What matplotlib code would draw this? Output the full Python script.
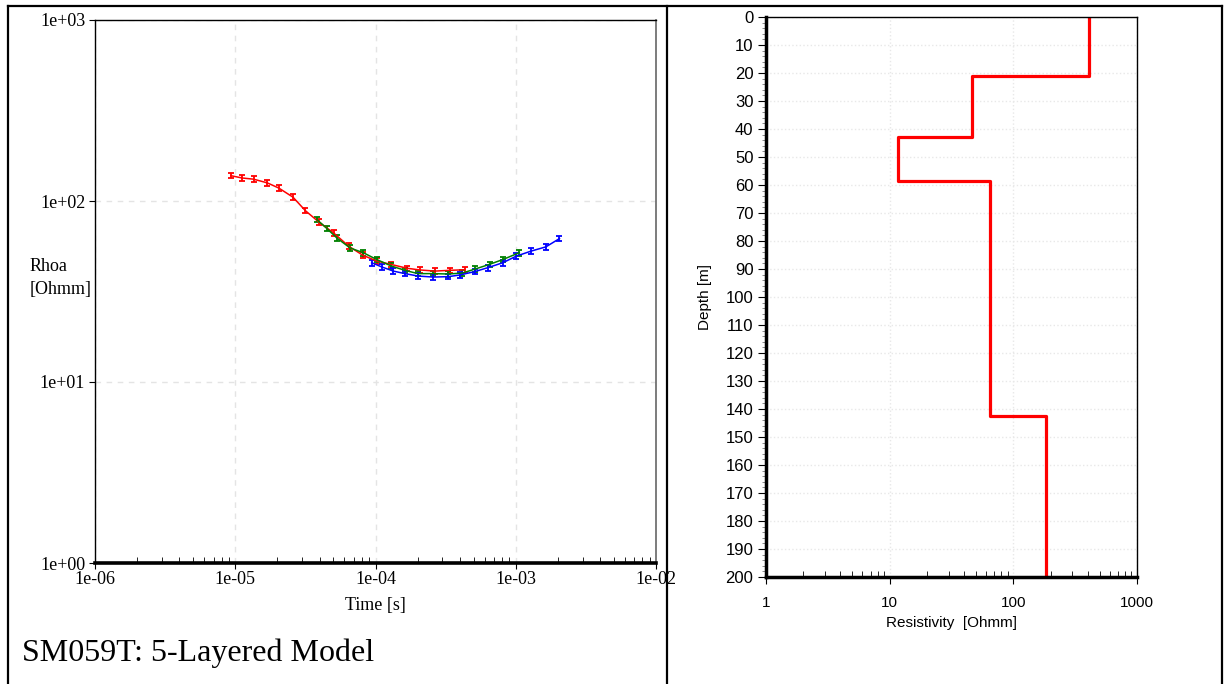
import matplotlib
matplotlib.use("Agg")
import matplotlib.pyplot as plt
import numpy as np
from matplotlib.lines import Line2D
from matplotlib.ticker import FixedLocator, NullLocator, MultipleLocator, LogLocator, FuncFormatter, NullFormatter

# apparent resistivity curves (time [s], rhoa [Ohmm])
red_t = [9.3e-6, 1.12e-5, 1.35e-5, 1.69e-5, 2.04e-5, 2.58e-5, 3.16e-5, 3.93e-5, 5.02e-5,
         6.42e-5, 8.1e-5, 1.02e-4, 1.28e-4, 1.68e-4, 2.07e-4, 2.65e-4, 3.39e-4, 4.33e-4]
red_rho = [138, 134, 132, 126, 118, 105, 88.5, 76.7, 66.7,
           56.4, 50.2, 46.6, 44.7, 42.5, 41.6, 41.0, 41.4, 41.7]

green_t = [3.82e-5, 4.5e-5, 5.3e-5, 6.59e-5, 8.18e-5, 1.02e-4, 1.3e-4, 1.62e-4,
           2.01e-4, 2.57e-4, 3.31e-4, 4.17e-4, 5.09e-4, 6.52e-4, 8.09e-4, 1.06e-3]
green_rho = [79, 70.5, 62.5, 55, 51.8, 47.5, 43.7, 41.4,
             39.7, 39.7, 39.5, 40, 42, 44.7, 47.5, 51.8]

blue_t = [9.4e-5, 1.11e-4, 1.34e-4, 1.62e-4, 2.01e-4, 2.58e-4, 3.31e-4, 3.98e-4,
          5.09e-4, 6.31e-4, 8.09e-4, 1.01e-3, 1.29e-3, 1.64e-3, 2.05e-3]
blue_rho = [45.6, 43.2, 41, 39.7, 38.5, 38, 38.2, 39,
            40.7, 42.8, 45.6, 49.6, 52.9, 55.8, 62]

rel_err = 0.035

# layered model
layer_res = [410, 46, 11.7, 65, 183]
layer_top = [0, 21, 43, 58.5, 142.5]
max_depth = 200

serif = ["Liberation Serif", "DejaVu Serif"]
sans = ["Liberation Sans", "DejaVu Sans"]

fig = plt.figure(figsize=(12.25, 6.84), dpi=100)

# ---- left: sounding curve
ax1 = fig.add_axes([95 / 1225, 1 - 563 / 684, 561 / 1225, 543 / 684])
for t, r, c in [(red_t, red_rho, "red"), (green_t, green_rho, "green"), (blue_t, blue_rho, "blue")]:
    r = np.array(r)
    ax1.errorbar(t, r, yerr=r * rel_err, color=c, lw=1.1, elinewidth=1.3,
                 capsize=2.5, capthick=1.3)
ax1.set_xscale("log")
ax1.set_yscale("log")
ax1.set_xlim(1e-6, 1e-2)
ax1.set_ylim(1, 1000)
ax1.xaxis.set_major_locator(FixedLocator([1e-6, 1e-5, 1e-4, 1e-3, 1e-2]))
ax1.xaxis.set_minor_locator(LogLocator(base=10, subs=np.arange(2, 10), numticks=20))
ax1.xaxis.set_minor_formatter(NullFormatter())
ax1.yaxis.set_major_locator(FixedLocator([1, 10, 100, 1000]))
ax1.yaxis.set_minor_locator(NullLocator())
fmt = FuncFormatter(lambda v, p: f"{v:.0e}")
ax1.xaxis.set_major_formatter(fmt)
ax1.yaxis.set_major_formatter(fmt)
ax1.tick_params(axis="x", which="major", direction="out", length=4, pad=2, labelsize=13)
ax1.tick_params(axis="x", which="minor", direction="in", length=4)
ax1.tick_params(axis="y", which="major", direction="out", length=4, pad=3, labelsize=13)
for lab in ax1.get_xticklabels() + ax1.get_yticklabels():
    lab.set_family(serif)
ax1.grid(True, which="major", color="#e4e4e4", lw=1, linestyle=(0, (4, 4)))
ax1.spines["bottom"].set_linewidth(2.6)
ax1.spines["left"].set_linewidth(1)
ax1.spines["top"].set_linewidth(1)
ax1.spines["right"].set_linewidth(1.2)
ax1.spines["right"].set_color("#666666")
ax1.set_xlabel("Time [s]", family=serif, fontsize=13, labelpad=6)
fig.text(30 / 1225, 1 - 278 / 684, "Rhoa\n[Ohmm]", family=serif, fontsize=13,
         ha="left", va="center", linespacing=1.5)
fig.text(22 / 1225, 1 - 653 / 684, "SM059T: 5-Layered Model", family=serif,
         fontsize=23, ha="left", va="center")

# ---- right: resistivity vs depth model
ax2 = fig.add_axes([766 / 1225, 1 - 577 / 684, 371 / 1225, 560 / 684])
xs = []
ys = []
bounds = layer_top[1:] + [max_depth]
for res, top, bot in zip(layer_res, layer_top, bounds):
    xs += [res, res]
    ys += [top, bot]
ax2.plot(xs, ys, color="red", lw=2.3)
ax2.set_xscale("log")
ax2.set_xlim(1, 1000)
ax2.set_ylim(max_depth, 0)
ax2.xaxis.set_major_locator(FixedLocator([1, 10, 100, 1000]))
ax2.xaxis.set_major_formatter(FuncFormatter(lambda v, p: f"{v:.0f}"))
ax2.xaxis.set_minor_locator(LogLocator(base=10, subs=np.arange(2, 10), numticks=20))
ax2.xaxis.set_minor_formatter(NullFormatter())
ax2.yaxis.set_major_locator(MultipleLocator(10))
ax2.yaxis.set_minor_locator(MultipleLocator(2))
ax2.tick_params(axis="x", which="major", direction="out", length=5, pad=9, labelsize=11)
ax2.tick_params(axis="x", which="minor", direction="in", length=4)
ax2.tick_params(axis="y", which="major", direction="out", length=6, pad=3, labelsize=12)
ax2.tick_params(axis="y", which="minor", direction="out", length=3, color="#777777")
for lab in ax2.get_xticklabels() + ax2.get_yticklabels():
    lab.set_family(sans)
ax2.grid(True, which="major", color="#e8e8e8", lw=1, linestyle=":")
ax2.spines["left"].set_linewidth(2.5)
ax2.spines["bottom"].set_linewidth(2.5)
ax2.spines["top"].set_linewidth(1)
ax2.spines["right"].set_linewidth(1)
ax2.set_xlabel("Resistivity  [Ohmm]", family=sans, fontsize=11, labelpad=4)
ax2.set_ylabel("Depth [m]", family=sans, fontsize=11, labelpad=10)

# ---- table borders around the two cells
lw_tab = 1.6
fig.add_artist(Line2D([8 / 1225, 1222 / 1225], [1 - 6 / 684, 1 - 6 / 684], color="black", lw=lw_tab))
for x in [8, 667, 1222]:
    fig.add_artist(Line2D([x / 1225, x / 1225], [0, 1 - 6 / 684], color="black", lw=lw_tab))

fig.savefig("out.png", dpi=100)
